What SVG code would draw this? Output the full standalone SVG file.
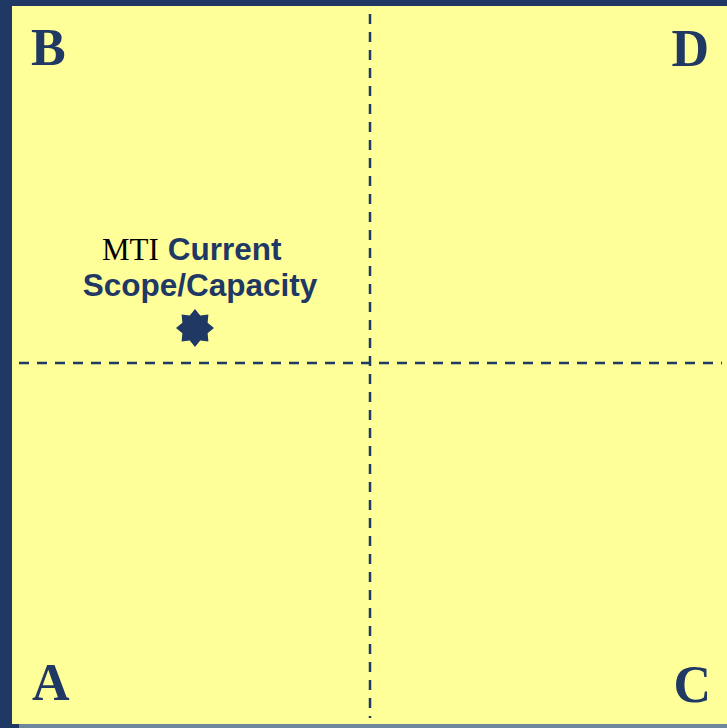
<svg xmlns="http://www.w3.org/2000/svg" width="727" height="728" viewBox="0 0 727 728">
  <style>
    .quad { font-family: "Liberation Serif", "Times New Roman", serif; font-weight: bold; font-size: 52px; fill: #1F3864; }
    .axis { stroke: #1F3864; stroke-width: 2.5; stroke-dasharray: 10 8; fill: none; }
    .lbl-serif { font-family: "Liberation Serif", "Times New Roman", serif; font-size: 31px; fill: #000; }
    .lbl-sans { font-family: "Liberation Sans", Arial, sans-serif; font-weight: bold; font-size: 31.5px; fill: #1F3864; }
  </style>

  <!-- frame -->
  <rect x="0" y="0" width="727" height="728" fill="#1F3864"/>
  <rect x="19" y="724" width="708" height="4" fill="#6E879C"/>
  <rect x="12" y="6" width="715" height="718" fill="#FFFF99"/>

  <!-- quadrant axes -->
  <g id="axes">
    <line class="axis" x1="19" y1="363" x2="722" y2="363"/>
    <line class="axis" x1="370" y1="14" x2="370" y2="718"/>
  </g>

  <!-- quadrant letters -->
  <g id="quadrant-B"><text class="quad" x="31" y="65">B</text></g>
  <g id="quadrant-D"><text class="quad" x="709" y="66" text-anchor="end">D</text></g>
  <g id="quadrant-A"><text class="quad" x="32" y="700">A</text></g>
  <g id="quadrant-C"><text class="quad" x="711" y="702" text-anchor="end">C</text></g>

  <!-- current position marker -->
  <g id="mti-current">
    <text x="102" y="260"><tspan class="lbl-serif">MTI</tspan><tspan class="lbl-sans" dx="9">Current</tspan></text>
    <text class="lbl-sans" x="200" y="296" text-anchor="middle">Scope/Capacity</text>
    <polygon fill="#1F3864" transform="translate(195,328)"
      points="0,-19 5.2,-12.6 13.4,-13.4 12.6,-5.2 19,0 12.6,5.2 13.4,13.4 5.2,12.6 0,19 -5.2,12.6 -13.4,13.4 -12.6,5.2 -19,0 -12.6,-5.2 -13.4,-13.4 -5.2,-12.6"/>
  </g>
</svg>
